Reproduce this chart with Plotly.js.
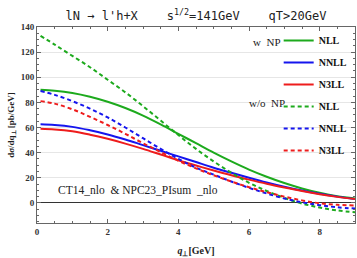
<!DOCTYPE html>
<html><head><meta charset="utf-8">
<script src="https://cdn.plot.ly/plotly-3.0.1.min.js"></script>
<style>body{margin:0;background:#fff}#g{width:357px;height:258px}</style>
</head><body><div id="g"></div>
<script>
var qT = [0.1, 0.5, 1, 1.5, 2, 2.5, 3, 3.5, 4, 4.5, 5, 5.5, 6, 6.5, 7, 7.5, 8, 8.5, 9];
var nllNP   = [90, 89.3, 87.5, 84.5, 80.5, 75.5, 69.5, 62.5, 55, 47.5, 40, 33, 26.5, 20.8, 15.8, 11.5, 8, 5.3, 3.5];
var nnllNP  = [62.5, 62, 60.5, 57.8, 54.5, 50.5, 46, 41.5, 37, 32.5, 28, 24, 20, 16.2, 12.8, 9.8, 7.2, 5, 3];
var n3llNP  = [59, 58.5, 57, 54.3, 51, 47.2, 43, 38.5, 34, 29.8, 25.8, 22, 18.5, 15.2, 12.2, 9.4, 6.9, 4.8, 3];
var nllNoNP = [133, 126, 117, 108, 98, 88, 77, 65.5, 54, 43, 33, 24, 16, 9.5, 4, -0.5, -3.7, -6, -7.5];
var nnllNoNP= [89, 86, 81, 75, 68, 60, 51.5, 43, 35, 28, 22.5, 17, 12, 7.5, 3.5, 0.5, -1.8, -3.5, -4.5];
var n3llNoNP= [81, 79, 74.5, 68.5, 62, 55, 47.5, 40.5, 33.5, 27.5, 22, 17, 12.5, 8.5, 5, 2, -0.3, -1.5, -2];
var names = ['NLL', 'NNLL', 'N3LL', 'NLL', 'NNLL', 'N3LL'];
var series = [nllNP, nnllNP, n3llNP, nllNoNP, nnllNoNP, n3llNoNP];
var colors = ['#1daa1d', '#1515ee', '#ee1c1c', '#1daa1d', '#1515ee', '#ee1c1c'];

var traces = series.map(function(s, i){
  return {x: qT, y: s, name: names[i], legendgroup: 'g' + i, type: 'scatter', mode: 'lines',
    line: {shape: 'spline', color: colors[i], width: 2, dash: i < 3 ? 'solid' : '4px,3px'}};
});
var tickFont = {family: 'Liberation Serif', size: 9, color: '#333', weight: 'bold'};
var layout = {
  width: 357, height: 258, margin: {l: 37, r: 2, t: 27, b: 35, autoexpand: false},
  paper_bgcolor: '#fff', plot_bgcolor: '#fff',
  title: {text: "lN \u2192 l'h+X    s<sup>1/2</sup>=141GeV    qT>20GeV", x: 0.549, xanchor: 'center', y: 0.955,
    font: {family: 'DejaVu Sans Mono', size: 12, color: '#222'}},
  xaxis: {range: [0, 9], dtick: 2, ticks: 'inside', ticklen: 4, tickcolor: '#666', showline: true, linecolor: '#666',
    mirror: 'allticks', showgrid: false, zeroline: false, tickfont: tickFont,
    minor: {dtick: 0.5, ticks: 'inside', ticklen: 2, tickcolor: '#666', showgrid: false},
    title: {text: '<b><i>q</i><sub>\u22a5</sub>[GeV]</b>', standoff: 12, font: {family: 'Liberation Serif', size: 10, color: '#222'}}},
  yaxis: {range: [-16, 140], dtick: 20, ticks: 'inside', ticklen: 4, tickcolor: '#666', showline: true, linecolor: '#666',
    mirror: 'allticks', showgrid: true, gridcolor: '#e6e6e6', zeroline: true, zerolinecolor: '#333', zerolinewidth: 1,
    tickfont: tickFont,
    minor: {dtick: 5, ticks: 'inside', ticklen: 2, tickcolor: '#666', showgrid: false},
    title: {text: '<b>d\u03c3/dq<sub>\u22a5</sub> [pb/GeV]</b>', standoff: 4, font: {family: 'Liberation Serif', size: 9, color: '#222'}}},
  showlegend: true,
  legend: {x: 0.76, y: 1.005, xanchor: 'left', yanchor: 'top', bgcolor: 'rgba(0,0,0,0)', itemwidth: 30,
    font: {family: 'Liberation Serif', size: 10, color: '#111', weight: 'bold'}, tracegroupgap: 3},
  annotations: [
    {xref: 'paper', yref: 'paper', x: 0.722, y: 0.923, xanchor: 'center', yanchor: 'middle', text: 'w  NP', showarrow: false, font: {family: 'Liberation Serif', size: 11, color: '#222'}},
    {xref: 'paper', yref: 'paper', x: 0.723, y: 0.612, xanchor: 'center', yanchor: 'middle', text: 'w/o  NP', showarrow: false, font: {family: 'Liberation Serif', size: 11, color: '#222'}},
    {xref: 'paper', yref: 'paper', x: 0.06, y: 0.168, xanchor: 'left', yanchor: 'middle', text: 'CT14_nlo  & NPC23_PIsum  _nlo', showarrow: false, font: {family: 'Liberation Serif', size: 11.5, color: '#222'}}
  ]
};
Plotly.newPlot('g', traces, layout, {displayModeBar: false, staticPlot: true});
</script></body></html>
